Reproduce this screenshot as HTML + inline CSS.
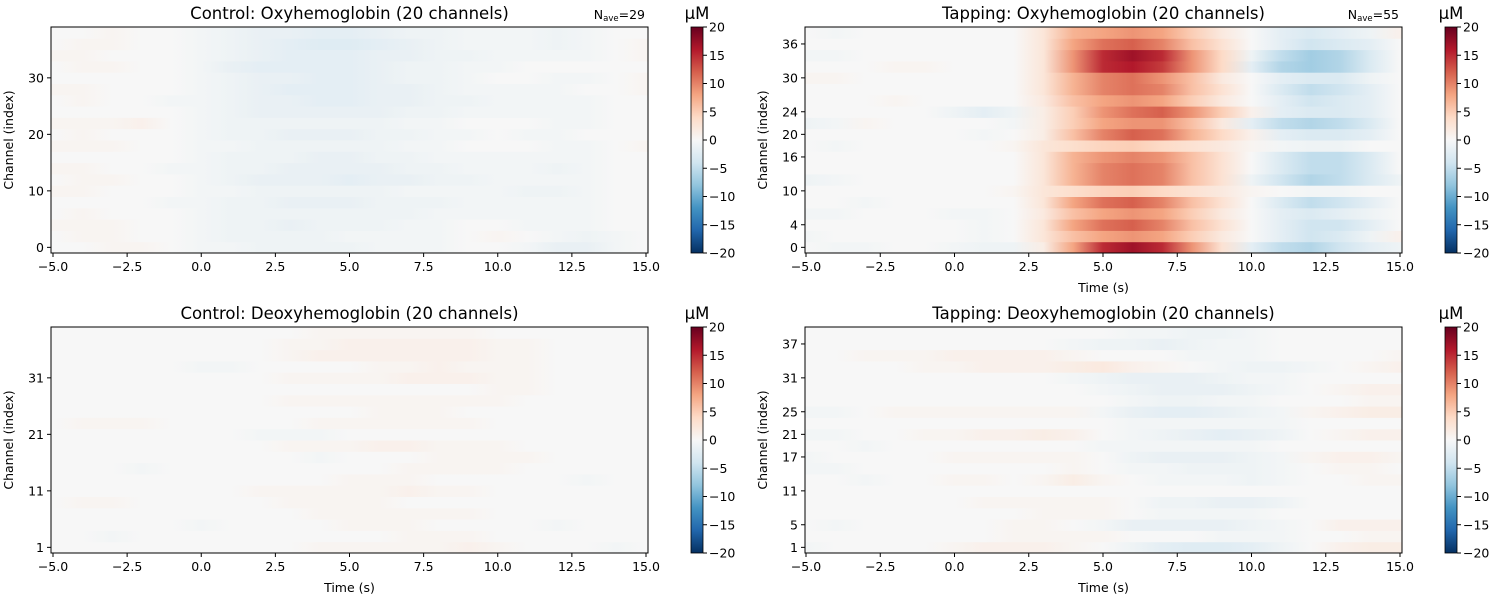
<!DOCTYPE html>
<html><head><meta charset="utf-8"><style>
body{margin:0;background:#fff;}
svg{display:block;font-family:"DejaVu Sans","Liberation Sans",sans-serif;}
</style></head><body>
<svg id="fig" width="1500" height="600" viewBox="0 0 1500 600"></svg>
<script>
const times = [-5,-4,-3,-2,-1,0,1,2,3,4,5,6,7,8,9,10,11,12,13,14,15];
const xTicks = [-5,-2.5,0,2.5,5,7.5,10,12.5,15];
const xTickLabels = ["\u22125.0","\u22122.5","0.0","2.5","5.0","7.5","10.0","12.5","15.0"];
const cbTicks = [20,15,10,5,0,-5,-10,-15,-20];
const cbTickLabels = ["20","15","10","5","0","\u22125","\u221210","\u221215","\u221220"];
const tlTicks = [0,10,20,30];
const trTicks = [0,4,10,16,20,24,30,36];
const blTicks = [1,11,21,31];
const brTicks = [1,5,11,17,21,25,31,37];
// rows listed bottom (lowest channel index) to top
const tappingHbO = [
[0,-0.5,-0.5,0,0,-0.5,-1,-1,1.5,8,15,17,15,9,3,-2,-5,-6,-4,-2,-1],
[-0.5,0,0,0,0,0,-0.5,0,2.5,6,8,9,8,5,2,0,-2,-4,-3,-1,1],
[0,0,0,0,0,0,-0.5,0,2.5,8,11,12,10,6,3,0,-2,-4,-4,-2,0],
[-0.5,-0.5,0,0,0,-0.5,-0.5,0,2,6,8,9,8,5,2,0,-2,-3,-2,-1,0],
[0,0,-0.5,0,0,0,0,0,2.5,8,11,12,10,6,3,0,-3,-5,-4,-2,0],
[0,0,0,0,0,0,0,0.5,2.5,3.5,4.5,5,4,3,2,0.5,0,-0.5,-0.5,0,0],
[-1,-0.5,0,0,0,0,0,0,2.5,7,10,11,10,6,3,-1,-4,-6,-5,-3,-1],
[0,0,0,0,0,0,0,0,2.5,7,10,11,10,6,3,0,-3,-5,-5,-3,0],
[0,0,0,0,0,0,0,0,2.5,7,9,10,9,6,3,0,-3,-5,-5,-3,0],
[0,-0.5,0,0,0,0,0,0.5,2.5,3.5,4.5,5,4,3,2,0.5,-0.5,-1,-1,0,0],
[0,0,0,0,0,0,-0.5,0,1.5,6,10,12,11,7,4,1,-2,-3,-3,-2,0],
[-1,-0.5,0.5,0,0,0,0,-0.5,1.5,5,8,9,9,6,2,-2,-5,-6,-5,-3,0],
[0,0,0,0,0,-1,-2,-1,1.5,5,9,11,12,9,5,1,-2,-3,-3,-2,0],
[0,0,0,0.5,0,0,0,0,2,6,8,9,8,5,2,0,-2,-4,-3,-2,0],
[0,0,0,0,0,0,0,0,2.5,7,10,11,10,6,3,0,-3,-5,-4,-2,0],
[0.5,0.5,0,0,0,0,0,0,2.5,7,10,11,9,6,2,0,-2,-3,-3,-1,0],
[0,0,0,0.5,0.5,0,0,0,2.5,9,15,16,14,9,4,-2,-6,-7,-6,-3,0],
[-0.5,-0.5,0,0,0,0,0,0,2.5,9,15,17,15,9,4,-1,-5,-7,-6,-3,0],
[0,0,0,0,0,0,0,0,2.5,8,11,12,10,6,3,0,-2,-4,-3,-2,0],
[0,-0.5,0,0,0,0,0,0,2.5,7,8,9,8,5,2,0,-2,-3,-2,-1,1]
];
const controlHbO = [
[0,0,0.5,0.5,0,-0.5,-0.5,-1,-1,-1,-1,-0.5,-0.5,-0.5,0,0,-0.5,-1.5,-1.5,-0.5,0],
[0,0.5,0.5,0,0,-0.5,-1,-1,-1,-1,-0.5,-0.5,-0.5,-0.5,0,0.5,0,-0.5,-1,-0.5,0],
[0.5,0.5,0.5,0,0,-0.5,-1,-1,-1.5,-1,-1,-1,-0.5,-0.5,0,0,-0.5,-0.5,-0.5,0,0],
[0,0.5,0,0,0,-0.5,-1,-1,-1,-1,-1,-1,-1,-0.5,-0.5,-0.5,-0.5,-0.5,-0.5,0,0],
[0,0,0,0,-0.5,-0.5,-1,-1,-1.5,-1.5,-1.5,-1,-1,-1,-0.5,-0.5,-0.5,-0.5,-0.5,0,0],
[0.5,0.5,0,0,0,-0.5,-0.5,-1,-1,-1,-1,-1,-0.5,-0.5,-0.5,-0.5,-1,-1,-0.5,0,0],
[0,0.5,0.5,0,0,-0.5,-1,-1.5,-1.5,-1.5,-2,-1.5,-1.5,-1,-1,-0.5,-0.5,-0.5,-0.5,0,0],
[0.5,0.5,0,0,-0.5,-0.5,-1,-1,-1.5,-1.5,-1.5,-1.5,-1,-1,-0.5,-0.5,-0.5,-1,-0.5,0,0],
[0,0,0,0,0,-0.5,-1,-1,-1,-1.5,-1.5,-1,-1,-0.5,-0.5,-0.5,-0.5,-0.5,-0.5,0,0],
[0.5,0.5,0.5,0,0,-0.5,-0.5,-1,-1,-1,-1,-1,-0.5,-0.5,0,0,0,-0.5,-0.5,0,0.5],
[0,0.5,0,0,0,-0.5,-1,-1,-1.5,-1.5,-1.5,-1,-1,-0.5,-0.5,0,-0.5,-0.5,0,0,0],
[0.5,0.5,0.5,1,0,-0.5,-1,-1,-1,-1,-1,-1,-0.5,-0.5,0,0,0,-0.5,-0.5,0,0],
[0,0,0,0,0,-0.5,-1,-1.5,-1.5,-1.5,-1.5,-1.5,-1,-1,-0.5,-0.5,-0.5,-0.5,-0.5,0,0],
[0,0.5,0,0,-0.5,-0.5,-1,-1.5,-1.5,-2,-2,-1.5,-1.5,-1,-1,-0.5,-0.5,-0.5,-0.5,0,0],
[0.5,0.5,0,0,0,-0.5,-1,-1.5,-2,-2,-2,-1.5,-1.5,-1,-0.5,-0.5,-0.5,-0.5,0,0,0.5],
[0,0,0,0,0,-0.5,-1,-1.5,-1.5,-2,-2,-1.5,-1,-1,-0.5,0,0,-0.5,-0.5,0,0.5],
[0,0.5,0.5,0,0,-0.5,-1.5,-2,-2,-2,-2,-1.5,-1,-1,-0.5,-0.5,0,0,0,0,0],
[0.5,0.5,0,0,0,-0.5,-1,-1.5,-2,-2,-2,-1.5,-1.5,-1,-1,-0.5,-0.5,-0.5,-0.5,0,0.5],
[0,0.5,0.5,0,0,-0.5,-1,-1.5,-2,-2.5,-2.5,-2,-1.5,-1,-0.5,-0.5,-0.5,-1,-0.5,0,0.5],
[0,0,0.5,0,0,-0.5,-1,-1.5,-1.5,-2,-2,-1.5,-1,-1,-0.5,-0.5,-0.5,-1,-0.5,0,0]
];
const controlHbR = [
[0,0,0,0,0,0,0,0,0,0.5,0.5,0.5,0.5,0.5,1,0.5,0,0,0,-0.5,0],
[0,0,-0.5,0,0,0,0,0,0,0,0,0,0.5,0.5,0.5,0,0,0,0,0,0],
[0,0,0,0,0,-0.5,0,0,0,0,0.5,0.5,0.5,0,0,0,0,-0.5,0,0,0],
[0,0,0,0,0,0,0,0,0,0.5,0.5,0.5,0.5,0.5,0.5,0,0,0,0,0,0],
[0,0.5,0.5,0,0,0,0,0,0.5,0.5,0.5,0.5,0,0,0,0,0,0,0,0,0],
[0,0,0,0,0,0,0,0.5,0.5,0.5,0.5,0.5,1,0.5,0.5,0,0,0,0,0,0],
[0,0,0,0,0,0,0,0,0,0,0.5,0.5,0.5,0,0,0,0,0,-0.5,0,0],
[0,0,0,-0.5,0,0,0,0,0,0,0,0,0.5,0.5,0.5,0.5,0,0,0,0,0],
[0,0,0,0,0,0,0,0,0,-0.5,0,0,0,0.5,0.5,0.5,0.5,0,0,0,0],
[0,0,0,0,0,0,0,0,0.5,0.5,0.5,1,1,0.5,0.5,0.5,0,0,0,0,0],
[0,0,0,0,0,0,0,-0.5,-0.5,-0.5,0,0,0,0,0,0,0,0,0,0,0],
[0,0.5,0.5,0.5,0,0,0,0,0,0.5,0.5,0.5,0.5,0.5,0.5,0,0,0,0,0,0],
[0,0,0,0,0,0,0,0,0,0,0,0.5,0.5,0.5,0,0,0,0,0,0,0],
[0,0,0,0,0,0,0,0,0.5,0.5,0.5,0.5,0.5,0.5,0.5,0.5,0,0,0,0,0],
[0,0,0,0,0,0,0,0,0,0,0,0,0,0,0,0.5,0.5,0,0,0,0],
[0,0,0,0,0,0,0,0,0.5,0.5,0.5,0.5,1,1,1,0.5,0.5,0,0,0,0],
[0,0,0,0,0,-0.5,-0.5,0,0,0,0,0.5,0.5,1,0.5,0.5,0.5,0,0,0,0],
[0,0,0,0,0,0,0,0,0.5,1,1,1,1,1,1,0.5,0.5,0,0,0,0],
[0,0,0,0,0,0,0,0,0.5,0.5,1,1,1,1,1,0.5,0.5,0,0,0,0],
[0,0,0,0,0,0,0,0,0,0.5,0.5,0.5,0.5,0.5,0.5,0,0,0,0,0,0]
];
const tappingHbR = [
[-0.5,0,0,0,0,0.5,1,1,1,0.5,0,-1,-2,-2.5,-2.5,-2,-1,0,1,1.5,1.5],
[0,0,0,0,0,0,0,0.5,0.5,0.5,0.5,0,0,0,-0.5,-0.5,-0.5,0,0,0.5,0.5],
[0,-0.5,0,0,0,0,0,0.5,0.5,0,-0.5,-1.5,-1.5,-1.5,-1.5,-1,-0.5,0,1,1,1],
[0,0,0,0,0,0,0,0,0.5,0.5,0.5,0,-0.5,-0.5,-0.5,-0.5,0,0,0,0,0],
[0,0,0,0,0,0,0.5,0.5,0.5,0.5,0.5,0,-1,-1,-1.5,-1.5,-1,0,0,0,0],
[0,0,0,0,0,0,0,0,0,0,0,0,0,0,0,0,0,0,0,0,0],
[0,0,-0.5,0,0,0.5,0.5,0,0.5,1.5,0.5,0,-0.5,-0.5,-0.5,-1,-0.5,0,0,0.5,0.5],
[-0.5,-0.5,0,0,0,0,0,0,0,0.5,0,-0.5,-0.5,-1,-1,-1,-0.5,0,0.5,0.5,0],
[-0.5,0,0,0,0,0.5,0.5,0.5,0.5,0.5,0,-1,-1.5,-1.5,-1.5,-1,-0.5,0.5,1,1,0.5],
[0,0,-0.5,0,0,0,0,0,0,0,-0.5,-0.5,-0.5,-0.5,-0.5,-0.5,0,0,0,0,0],
[-0.5,-0.5,0,0,0.5,0.5,1,1,1.5,1,0,-0.5,-1,-1.5,-2,-1.5,-1,0,0.5,1,1],
[0,0,0,0,0,0,0,0,0,0,0,-0.5,-0.5,-0.5,-0.5,-0.5,-0.5,0,0,0,0],
[-0.5,-0.5,0,0.5,0.5,0.5,0.5,0.5,0.5,0.5,-0.5,-1.5,-2,-2,-1.5,-1,-0.5,0.5,1,1.5,1.5],
[0,0,0,0,0,0,0,0,0,0,0,-0.5,-1,-1,-0.5,-0.5,0,0,0,0.5,0.5],
[0,0,0,0,0,0,0,0,0,0,-0.5,-1,-1.5,-1.5,-1.5,-1,-0.5,0,0.5,1,1],
[0,0,0,0,0,0,0,0,0,-0.5,-1,-1.5,-1.5,-1.5,-1,-0.5,-0.5,0,0,0,0],
[0,0,0,0,0.5,0.5,1,1,1,1.5,2,1,0.5,0,-0.5,-1,-1,-0.5,0,0.5,1],
[0,0,0.5,0.5,0.5,1,1,1,1,0.5,0,0,0,-0.5,-0.5,-0.5,0,0,0,0,0.5],
[0,0,0,0,0,0,0,0,0,-0.5,-1,-1,-1.5,-1,-0.5,-0.5,0,0,0,0,0],
[0,0,0,0,0,0,0,0,0,0,0,-0.5,-0.5,-1,-1,-0.5,0,0,0,0,0]
];
// RdBu_r colormap anchors from -20 to 20
const cmap = ["#053061","#2166ac","#4393c3","#92c5de","#d1e5f0","#f7f7f7","#fddbc7","#f4a582","#d6604d","#b2182b","#67001f"];

const NS="http://www.w3.org/2000/svg";
const svg=document.getElementById('fig');
const defs=document.createElementNS(NS,'defs');svg.appendChild(defs);
function hex(c){return [1,3,5].map(i=>parseInt(c.substr(i,2),16));}
function color(v){
  let t=(Math.max(-20,Math.min(20,v))+20)/40*(cmap.length-1);
  let i=Math.min(Math.floor(t),cmap.length-2), f=t-i;
  let a=hex(cmap[i]),b=hex(cmap[i+1]);
  return 'rgb('+a.map((x,k)=>Math.round(x+(b[k]-x)*f)).join(',')+')';
}
function el(tag,attrs,parent){const e=document.createElementNS(NS,tag);for(const k in attrs)e.setAttribute(k,attrs[k]);(parent||svg).appendChild(e);return e;}
function txt(s,attrs,parent){const e=el('text',attrs,parent);e.textContent=s;return e;}

const TICK=12.5, TITLE=16.5;
let gid=0;
function panel(opt){
  const g=el('g',{});
  
  
  const x0=opt.bx0,x1=opt.bx1,y0=opt.by0,y1=opt.by1;
  const xs=t=>opt.px5+(t+5)/20*(opt.px15-opt.px5);
  const ys=v=>y1-(v-opt.ymin)/(opt.ymax-opt.ymin)*(y1-y0);
  opt.data.forEach((row,k)=>{
    const id='g'+(gid++);
    const lg=el('linearGradient',{id:id,gradientUnits:'userSpaceOnUse',x1:xs(times[0]),x2:xs(times[times.length-1]),y1:0,y2:0},defs);
    row.forEach((v,j)=>{el('stop',{offset:(j/(times.length-1)).toFixed(4),'stop-color':color(v)},lg);});
    const lo=opt.ymin+2*k, hi=lo+2;
    const r=el('rect',{x:x0,y:ys(hi),width:x1-x0,height:ys(lo)-ys(hi)+0.5,fill:'url(#'+id+')'},g);
    
    
  });
  const frame=el('rect',{x:x0,y:y0,width:x1-x0,height:y1-y0,fill:'none',stroke:'#000','stroke-width':1},g);
  
  
  xTicks.forEach((t,i)=>{
    el('line',{x1:xs(t),x2:xs(t),y1:y1,y2:y1+4,stroke:'#000'},g);
    const l=txt(xTickLabels[i],{x:xs(t),y:y1+18,'font-size':TICK,'text-anchor':'middle'},g);
    
    
  });
  opt.yticks.forEach(t=>{
    el('line',{x1:x0-4,x2:x0,y1:ys(t),y2:ys(t),stroke:'#000'},g);
    const l=txt(String(t),{x:x0-7,y:ys(t)+4.5,'font-size':TICK,'text-anchor':'end'},g);
    
    
  });
  const tt=txt(opt.title,{x:(x0+x1)/2,y:y0-8,'font-size':TITLE,'text-anchor':'middle'},g);
  
  
  if(opt.ylabel){
    const yl=txt('Channel (index)',{x:0,y:0,'font-size':TICK,'text-anchor':'middle',transform:'translate('+(x0-38)+','+((y0+y1)/2)+') rotate(-90)'},g);
    
    
  }
  if(opt.xlabel){
    const xl=txt('Time (s)',{x:(x0+x1)/2,y:y1+39,'font-size':TICK,'text-anchor':'middle'},g);
    
    
  }
  if(opt.nave){
    const n=el('text',{x:x1-3,y:y0-8,'font-size':TICK,'text-anchor':'end'},g);
    
    
    n.innerHTML='N<tspan font-size="8.5" dy="2">ave</tspan><tspan dy="-2">='+opt.nave+'</tspan>';
  }
  const cx=opt.cbx, cw=12;
  const id='cb'+(gid++);
  const lg=el('linearGradient',{id:id,x1:0,y1:1,x2:0,y2:0},defs);
  cmap.forEach((c,i)=>el('stop',{offset:i/(cmap.length-1),'stop-color':c},lg));
  const cb=el('rect',{x:cx,y:y0,width:cw,height:y1-y0,fill:'url(#'+id+')',stroke:'#000','stroke-width':0.8},g);
  
  
  cbTicks.forEach((v,i)=>{
    const yy=y1-(v+20)/40*(y1-y0);
    el('line',{x1:cx+cw,x2:cx+cw+4,y1:yy,y2:yy,stroke:'#000'},g);
    const l=txt(cbTickLabels[i],{x:cx+cw+6,y:yy+4.5,'font-size':TICK},g);
    
    
  });
  const u=txt('\u00b5M',{x:cx+6,y:y0-8,'font-size':TITLE,'text-anchor':'middle'},g);
  
  
}
panel({name:'control-hbo-panel',title:'Control: Oxyhemoglobin (20 channels)',data:controlHbO,bx0:51,bx1:648,px5:53,px15:646,by0:27,by1:253,ymin:-1,ymax:39,yticks:tlTicks,ylabel:true,xlabel:false,nave:29,cbx:691});
panel({name:'tapping-hbo-panel',title:'Tapping: Oxyhemoglobin (20 channels)',data:tappingHbO,bx0:805,bx1:1402,px5:806,px15:1400,by0:27,by1:253,ymin:-1,ymax:39,yticks:trTicks,ylabel:true,xlabel:true,nave:55,cbx:1445});
panel({name:'control-hbr-panel',title:'Control: Deoxyhemoglobin (20 channels)',data:controlHbR,bx0:51,bx1:648,px5:53,px15:646,by0:327,by1:553,ymin:0,ymax:40,yticks:blTicks,ylabel:true,xlabel:true,cbx:691});
panel({name:'tapping-hbr-panel',title:'Tapping: Deoxyhemoglobin (20 channels)',data:tappingHbR,bx0:805,bx1:1402,px5:806,px15:1400,by0:327,by1:553,ymin:0,ymax:40,yticks:brTicks,ylabel:true,xlabel:true,cbx:1445});
</script>
</body></html>
